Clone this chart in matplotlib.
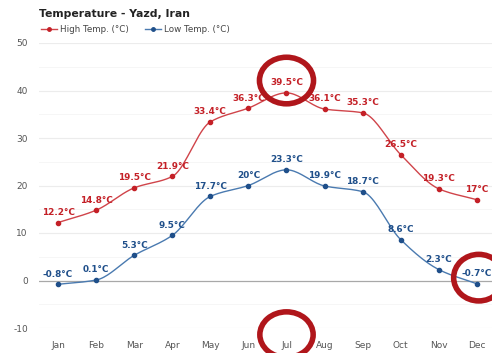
import matplotlib.pyplot as plt
import numpy as np
from matplotlib.patches import Ellipse
from matplotlib.lines import Line2D

plt.rcParams['axes.unicode_minus'] = False

months = ['Jan', 'Feb', 'Mar', 'Apr', 'May', 'Jun', 'Jul', 'Aug', 'Sep', 'Oct', 'Nov', 'Dec']
high_temp = [12.2, 14.8, 19.5, 21.9, 33.4, 36.3, 39.5, 36.1, 35.3, 26.5, 19.3, 17]
low_temp = [-0.8, 0.1, 5.3, 9.5, 17.7, 20, 23.3, 19.9, 18.7, 8.6, 2.3, -0.7]

HIGH_LINE = '#d0444a'
HIGH_TEXT = '#c42027'
LOW_LINE = '#4a7ab0'
LOW_TEXT = '#1f4f8a'
CIRCLE = '#b0161b'


def smooth(x, y, n=20):
    # monotone cubic hermite between the points
    x = np.asarray(x, float)
    y = np.asarray(y, float)
    h = np.diff(x)
    d = np.diff(y) / h
    m = np.zeros_like(y)
    m[0], m[-1] = d[0], d[-1]
    for i in range(1, len(y) - 1):
        if d[i - 1] * d[i] > 0:
            m[i] = 2 / (1 / d[i - 1] + 1 / d[i])
    xs, ys = [], []
    for i in range(len(x) - 1):
        t = np.linspace(0, 1, n, endpoint=False)
        h00 = 2 * t**3 - 3 * t**2 + 1
        h10 = t**3 - 2 * t**2 + t
        h01 = -2 * t**3 + 3 * t**2
        h11 = t**3 - t**2
        xs.append(x[i] + t * h[i])
        ys.append(h00 * y[i] + h10 * h[i] * m[i] + h01 * y[i + 1] + h11 * h[i] * m[i + 1])
    xs.append([x[-1]])
    ys.append([y[-1]])
    return np.concatenate(xs), np.concatenate(ys)


fig = plt.figure(figsize=(4.92, 3.53), dpi=100)
fig.patch.set_facecolor('white')
ax = fig.add_axes([39 / 492, 25 / 353, 455 / 492, 285 / 353])

x = np.arange(len(months))

# grid
for v in range(-10, 51, 5):
    if v == 0:
        ax.axhline(v, color='#a8a8a8', lw=0.9, zorder=1)
    elif v % 10 == 0:
        ax.axhline(v, color='#ececec', lw=0.8, zorder=0)
    else:
        ax.axhline(v, color='#f6f6f6', lw=0.7, zorder=0)

for vals, lc, tc in [(high_temp, HIGH_LINE, HIGH_TEXT), (low_temp, LOW_LINE, LOW_TEXT)]:
    sx, sy = smooth(x, vals)
    ax.plot(sx, sy, color=lc, lw=1.0, zorder=3)
    ax.plot(x, vals, 'o', color=tc, ms=3, zorder=4)
    for xi, v in zip(x, vals):
        ax.annotate(f'{v:g}°C', (xi, v), xytext=(0, 4), textcoords='offset points',
                    ha='center', va='bottom', fontsize=6.4, fontweight='bold',
                    color=tc, zorder=5)

ax.set_xlim(-0.5, 11.45)
ax.set_ylim(-10, 50)
ax.set_yticks(range(-10, 51, 10))
ax.set_xticks(x)
ax.set_xticklabels(months)
ax.tick_params(length=0, labelsize=6.5, labelcolor='#555555')
ax.tick_params(axis='x', pad=9)
ax.tick_params(axis='y', pad=8)
for s in ax.spines.values():
    s.set_visible(False)

# red highlight rings
for cx, cy, w, h in [(6, 42.1, 1.42, 9.8), (6, -11.4, 1.4, 9.6), (11.05, 0.6, 1.32, 9.8)]:
    ax.add_patch(Ellipse((cx, cy), w, h, fill=False, ec=CIRCLE, lw=4.0,
                         clip_on=False, zorder=6))

fig.text(39 / 492, 1 - 14 / 353, 'Temperature - Yazd, Iran', fontsize=7.8,
         fontweight='bold', color='#222222', va='center')

handles = [
    Line2D([], [], color=HIGH_LINE, lw=1, marker='o', ms=2.5, mfc=HIGH_TEXT, mec=HIGH_TEXT),
    Line2D([], [], color=LOW_LINE, lw=1, marker='o', ms=2.5, mfc=LOW_TEXT, mec=LOW_TEXT),
]
fig.legend(handles, ['High Temp. (°C)', 'Low Temp. (°C)'], loc='center left',
           bbox_to_anchor=(33 / 492, 1 - 30 / 353), ncol=2, frameon=False,
           fontsize=6.3, handlelength=1.8, handletextpad=0.4, columnspacing=1.8,
           labelcolor='#444444')

fig.savefig('out.png', dpi=100)
